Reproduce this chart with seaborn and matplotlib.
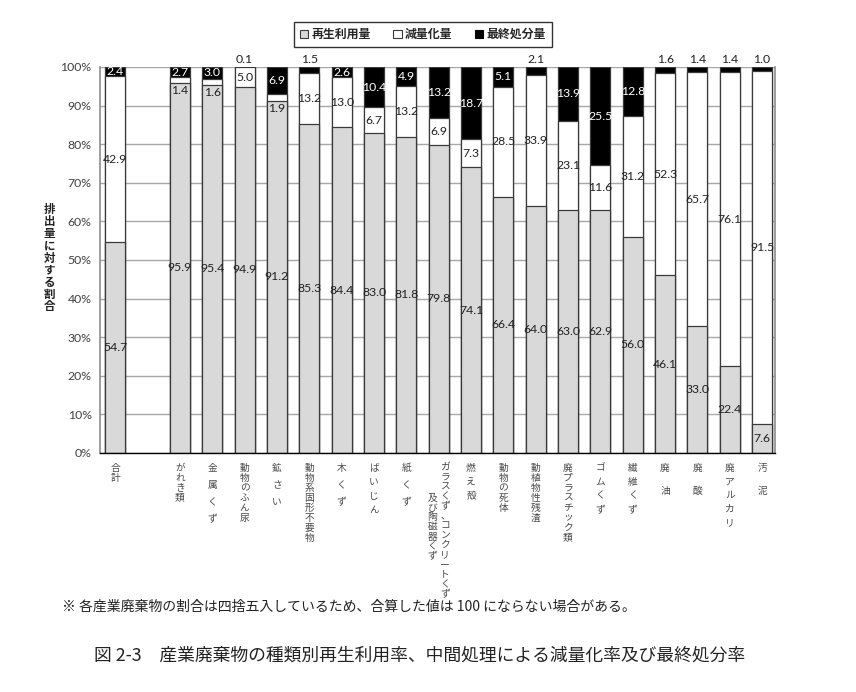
import numpy as np
import pandas as pd
import seaborn as sns
import matplotlib.pyplot as plt
import matplotlib.transforms as mtransforms
from matplotlib.patches import Patch

# data (percent of discharged amount)
categories = ["合計", "", "がれき類", "金属くず", "動物のふん尿", "鉱さい",
              "動物系固形不要物", "木くず", "ばいじん", "紙くず",
              "ガラスくず、コンクリートくず及び陶磁器くず", "燃え殻", "動物の死体",
              "動植物性残渣", "廃プラスチック類", "ゴムくず", "繊維くず",
              "廃油", "廃酸", "廃アルカリ", "汚泥"]
recycle = [54.7, np.nan, 95.9, 95.4, 94.9, 91.2, 85.3, 84.4, 83.0, 81.8,
           79.8, 74.1, 66.4, 64.0, 63.0, 62.9, 56.0, 46.1, 33.0, 22.4, 7.6]
reduction = [42.9, np.nan, 1.4, 1.6, 5.0, 1.9, 13.2, 13.0, 6.7, 13.2,
             6.9, 7.3, 28.5, 33.9, 23.1, 11.6, 31.2, 52.3, 65.7, 76.1, 91.5]
final = [2.4, np.nan, 2.7, 3.0, 0.1, 6.9, 1.5, 2.6, 10.4, 4.9,
         13.2, 18.7, 5.1, 2.1, 13.9, 25.5, 12.8, 1.6, 1.4, 1.4, 1.0]
legend_labels = ["再生利用量", "減量化量", "最終処分量"]
yticks = list(range(0, 101, 10))

GRAY = "#d9d9d9"
EDGE = "#3a3a3a"
TXT = "#404040"
NUM = 8.8

df = pd.DataFrame({"cat": categories, "recycle": recycle,
                   "reduction": reduction, "final": final})
tot = df[["recycle", "reduction", "final"]].sum(axis=1)
df["top"] = np.where(tot > 0, 100.0, np.nan)
df["mid"] = (df["recycle"] + df["reduction"]) / tot * 100
df["low"] = df["recycle"] / tot * 100

sns.set_style("white")
plt.rcParams["font.family"] = ["Lato", "Noto Sans CJK JP", "DejaVu Sans"]
JP = ["Noto Sans CJK JP", "DejaVu Sans"]

fig = plt.figure(figsize=(8.56, 6.92), dpi=100)
ax = fig.add_axes([0.1168, 0.3454, 0.7886, 0.5578])

for col, colour in [("top", "black"), ("mid", "white"), ("low", GRAY)]:
    sns.barplot(data=df, x="cat", y=col, order=categories, color=colour,
                saturation=1, width=0.62, edgecolor=EDGE, linewidth=0.9,
                errorbar=None, ax=ax)

# value labels
for i, row in df.iterrows():
    if np.isnan(row["recycle"]):
        continue
    ax.text(i, row["low"] / 2, f"{row['recycle']:.1f}", ha="center",
            va="center", fontsize=NUM, color="#222222")
    if row["reduction"] >= 3:
        ax.text(i, (row["low"] + row["mid"]) / 2, f"{row['reduction']:.1f}",
                ha="center", va="center", fontsize=NUM, color="#222222")
    else:
        ax.text(i, row["low"] - 0.6, f"{row['reduction']:.1f}", ha="center",
                va="top", fontsize=NUM, color="#222222")
    if row["final"] > 2.2:
        ax.text(i, (row["mid"] + 100) / 2, f"{row['final']:.1f}", ha="center",
                va="center", fontsize=NUM, color="white")
    else:
        ax.text(i, 100.6, f"{row['final']:.1f}", ha="center", va="bottom",
                fontsize=NUM, color="#222222")

ax.set_xlim(-0.47, len(categories) - 0.6)
ax.set_ylim(0, 100)
ax.set_yticks(yticks)
ax.set_yticklabels([f"{v}%" for v in yticks], fontsize=8.8, color=TXT)
ax.yaxis.grid(True, color="#a8a8a8", linewidth=1.0)
ax.set_axisbelow(True)
ax.set_xlabel("")
ax.set_ylabel("")

for side in ["left", "right"]:
    ax.spines[side].set_color("#8c8c8c")
    ax.spines[side].set_linewidth(1.2)
ax.spines["top"].set_visible(False)
ax.spines["bottom"].set_color("black")
ax.spines["bottom"].set_linewidth(1.0)
ax.tick_params(axis="y", length=3, color="#8c8c8c", pad=3)

# vertical category labels
spaced = {"金属くず": 1.9, "鉱さい": 1.9, "木くず": 1.9, "紙くず": 1.9,
          "ばいじん": 1.5, "燃え殻": 1.5, "ゴムくず": 1.5, "繊維くず": 1.5,
          "廃アルカリ": 1.45, "廃油": 2.6, "廃酸": 2.6, "汚泥": 2.6}
long_label = categories[10]
ax.set_xticks(range(len(categories)))
ax.set_xticklabels(["" if c == long_label else "\n".join(c)
                    for c in categories])
for c, lab in zip(categories, ax.get_xticklabels()):
    lab.set_family(JP)
    lab.set_fontsize(7)
    lab.set_color("#4a4a4a")
    lab.set_linespacing(spaced.get(c, 1.0))
ax.tick_params(axis="x", length=0, pad=7)
ax.set_xticks(np.arange(0.5, len(categories) - 1, 1), minor=True)
ax.tick_params(axis="x", which="minor", length=4, color="black", direction="out")

# two-column label for glass/concrete/ceramics
trans = mtransforms.blended_transform_factory(ax.transData, ax.transAxes)
right_col, left_col = long_label.split("及")
left_col = "及" + left_col
ax.text(10.2, -0.023, "\n".join(right_col), transform=trans, ha="center",
        va="top", fontsize=7, family=JP, color="#4a4a4a", linespacing=0.97)
ax.text(9.8, -0.103, "\n".join(left_col), transform=trans, ha="center",
        va="top", fontsize=7, family=JP, color="#4a4a4a", linespacing=0.97)

# y label, stacked vertically
fig.text(0.058, 0.627, "\n".join("排出量に対する割合"), ha="center", va="center",
         fontsize=8.3, family=JP, fontweight="bold", color="#222222",
         linespacing=0.92)

handles = [Patch(facecolor=GRAY, edgecolor=EDGE, linewidth=0.8),
           Patch(facecolor="white", edgecolor=EDGE, linewidth=0.8),
           Patch(facecolor="black", edgecolor="black", linewidth=0.8)]
leg = fig.legend(handles, legend_labels, loc="center",
                 bbox_to_anchor=(0.494, 0.950), ncol=3, frameon=True,
                 fancybox=False, edgecolor="black", handlelength=0.7,
                 handleheight=0.7, handletextpad=0.25, columnspacing=1.9,
                 borderpad=0.5, prop={"family": JP, "size": 8.6,
                                      "weight": "bold"})
leg.get_frame().set_linewidth(1.0)

fig.text(0.072, 0.123,
         "※ 各産業廃棄物の割合は四捨五入しているため、合算した値は 100 にならない場合がある。",
         ha="left", va="center", fontsize=10, family=JP, color="#222222")
fig.text(0.49, 0.052,
         "図 2-3　産業廃棄物の種類別再生利用率、中間処理による減量化率及び最終処分率",
         ha="center", va="center", fontsize=12.8, family=JP, color="#222222")

fig.savefig("out.png", dpi=100)
